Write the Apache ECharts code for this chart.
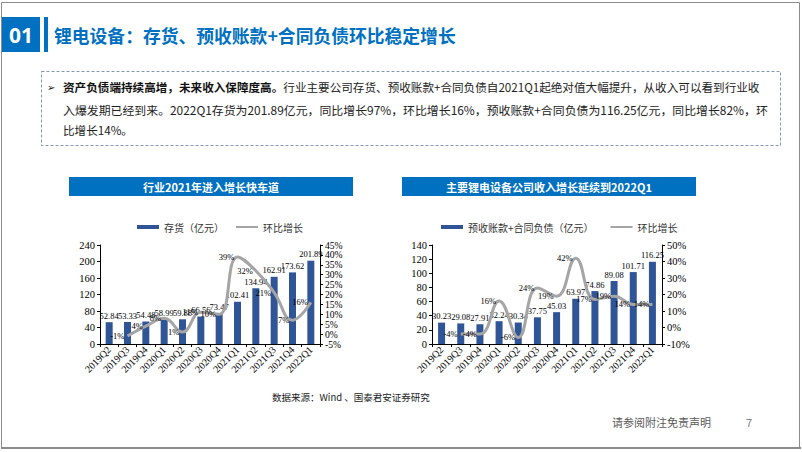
<!DOCTYPE html>
<html><head><meta charset="utf-8">
<script src="https://cdn.jsdelivr.net/npm/echarts@6/dist/echarts.min.js"></script>
<style>html,body{margin:0;padding:0;background:#fff}#c{width:802px;height:452px}</style>
</head><body><div id="c"></div>
<script>
// ---- data ----
const categories = ['2019Q2','2019Q3','2019Q4','2020Q1','2020Q2','2020Q3','2020Q4','2021Q1','2021Q2','2021Q3','2021Q4','2022Q1'];
const inventory = [52.84,53.33,54.48,58.99,59.88,66.56,73.47,102.41,134.94,162.91,173.62,201.89];
const inventoryQoQ = [null,-1,4,8,1,11,10,39,32,21,7,16];
const advance = [30.23,29.08,27.91,32.24,30.34,37.75,45.03,63.97,74.86,89.08,101.71,116.25];
const advanceQoQ = [null,-4,-4,16,-6,24,19,42,17,19,14,14];
const inventoryAxis = {min:0, max:240, interval:40};
const inventoryPctAxis = {min:-5, max:45, interval:5};
const advanceAxis = {min:0, max:140, interval:20};
const advancePctAxis = {min:-10, max:50, interval:10};
const chartTitles = ['行业2021年进入增长快车道','主要锂电设备公司收入增长延续到2022Q1'];
const seriesNames = ['存货（亿元）','预收账款+合同负债（亿元）','环比增长'];

const SERIF = '"Liberation Serif","Times New Roman",serif';
const CJK = '"Noto Sans CJK SC","Microsoft YaHei",sans-serif';
const BLUE = '#0070C0', BAR = '#2F5597', GRAY = '#A5A5A5';
const LINE_ICON = 'path://M0,0 L0.01,0 L0.01,0.01 Z M0,1.1 L22,1.1 L22,2.9 L0,2.9 Z M0,4 L0.01,4 L0.01,3.99 Z';

const chart = echarts.init(document.getElementById('c'), null, {renderer:'svg', width:802, height:452});

function valAxis(grid, cfg, pos, pct, fs){
  return {
    type:'value', gridIndex:grid, position:pos, min:cfg.min, max:cfg.max, interval:cfg.interval,
    axisLine:{show:true, lineStyle:{color:'#000', width:1}},
    axisTick:{show:true, length:3, lineStyle:{color:'#000'}},
    splitLine:{show:false},
    axisLabel:{fontFamily:SERIF, fontSize:fs, color:'#000', margin:5,
      showMinLabel:true, showMaxLabel:true, hideOverlap:false,
      formatter: pct ? '{value}%' : '{value}'}
  };
}
function catAxis(grid){
  return {
    type:'category', gridIndex:grid, data:categories,
    axisLine:{show:true, lineStyle:{color:'#000'}},
    axisTick:{show:true, length:3, lineStyle:{color:'#000'}},
    axisLabel:{rotate:45, fontFamily:SERIF, fontSize:10, color:'#000', margin:4, interval:0}
  };
}
function pctData(arr){ return arr.map(v => v === null ? '-' : v); }

const legendText = {fontFamily:CJK, fontSize:10, color:'#333'};
const option = {
  animation:false,
  textStyle:{fontFamily:CJK},
  grid:[
    {left:100, top:245, width:220, height:99},
    {left:432, top:245, width:230, height:99}
  ],
  xAxis:[catAxis(0), catAxis(1)],
  yAxis:[
    valAxis(0, inventoryAxis, 'left', false, 10.5),
    valAxis(0, inventoryPctAxis, 'right', true, 9.6),
    valAxis(1, advanceAxis, 'left', false, 10.5),
    valAxis(1, advancePctAxis, 'right', true, 10.5)
  ],
  legend:[
    {left:132, top:217, itemWidth:22, itemHeight:4, itemGap:12, textStyle:legendText,
     data:[{name:seriesNames[0], icon:'rect'}, {name:seriesNames[2], icon:LINE_ICON}]},
    {left:436, top:217, itemWidth:22, itemHeight:4, itemGap:17, textStyle:legendText,
     data:[{name:seriesNames[1], icon:'rect'}, {name:seriesNames[2], icon:LINE_ICON}]}
  ],
  series:[
    {name:seriesNames[0], type:'bar', xAxisIndex:0, yAxisIndex:0, data:inventory, barWidth:7,
     itemStyle:{color:BAR},
     label:{show:true, position:'top', distance:2, fontFamily:SERIF, fontSize:8.5, color:'#000'}},
    {name:seriesNames[2], type:'line', xAxisIndex:0, yAxisIndex:1, data:pctData(inventoryQoQ), smooth:0.45,
     symbol:'circle', symbolSize:0.1, showSymbol:true, lineStyle:{color:GRAY, width:3}, itemStyle:{color:GRAY},
     label:{show:true, position:'left', distance:3, fontFamily:SERIF, fontSize:8.5, color:'#000', formatter:'{c}%'}},
    {name:seriesNames[1], type:'bar', xAxisIndex:1, yAxisIndex:2, data:advance, barWidth:7,
     itemStyle:{color:BAR},
     label:{show:true, position:'top', distance:2, fontFamily:SERIF, fontSize:8.5, color:'#000'}},
    {name:seriesNames[2], type:'line', xAxisIndex:1, yAxisIndex:3, data:pctData(advanceQoQ), smooth:0.45,
     symbol:'circle', symbolSize:0.1, showSymbol:true, lineStyle:{color:GRAY, width:3}, itemStyle:{color:GRAY},
     label:{show:true, position:'left', distance:3, fontFamily:SERIF, fontSize:8.5, color:'#000', formatter:'{c}%'}}
  ],
  graphic:[
    // slide frame
    {type:'rect', shape:{x:1.5, y:2.5, width:798, height:446}, style:{fill:'none', stroke:'#8c8c8c', lineWidth:1}},
    {type:'rect', shape:{x:1, y:447, width:800, height:2}, style:{fill:'#8c8c8c'}},
    // header
    {type:'rect', shape:{x:2, y:17, width:38, height:35}, style:{fill:BLUE}},
    {type:'text', x:21, y:35, style:{text:'01', fill:'#fff', font:'bold 21px "Open Sans",Arial,sans-serif', align:'center', verticalAlign:'middle'}},
    {type:'rect', shape:{x:44, y:17, width:4, height:35}, style:{fill:BLUE}},
    {type:'text', x:54, y:35, style:{text:'锂电设备：存货、预收账款+合同负债环比稳定增长', fill:BLUE, font:'bold 17.8px '+CJK, verticalAlign:'middle'}},
    // dashed box
    {type:'rect', shape:{x:41.5, y:71.5, width:739, height:74}, style:{fill:'none', stroke:'#8497B0', lineWidth:1, lineDash:[3,2]}},
    {type:'text', x:47, y:87, style:{text:'➢', fill:'#222', font:'10px "DejaVu Sans",sans-serif', verticalAlign:'middle'}},
    {type:'text', x:63, y:87, style:{
      text:'{b|资产负债端持续高增，未来收入保障度高。}{n|行业主要公司存货、预收账款+合同负债自2021Q1起绝对值大幅提升，从收入可以看到行业收}',
      verticalAlign:'middle',
      rich:{b:{font:'bold 11.6px '+CJK, fill:'#111'}, n:{font:'11.6px '+CJK, fill:'#222'}}}},
    {type:'text', x:63, y:109, style:{text:'入爆发期已经到来。2022Q1存货为201.89亿元，同比增长97%，环比增长16%，预收账款+合同负债为116.25亿元，同比增长82%，环',
      font:'11.9px '+CJK, fill:'#222', verticalAlign:'middle'}},
    {type:'text', x:63, y:130, style:{text:'比增长14%。', font:'11.6px '+CJK, fill:'#222', verticalAlign:'middle'}},
    // chart title bars
    {type:'rect', shape:{x:69, y:177, width:284, height:19}, style:{fill:BLUE}},
    {type:'text', x:211, y:186.5, style:{text:chartTitles[0], fill:'#fff', font:'bold 11px '+CJK, align:'center', verticalAlign:'middle'}},
    {type:'rect', shape:{x:402, y:177, width:294, height:19}, style:{fill:BLUE}},
    {type:'text', x:549, y:186.5, style:{text:chartTitles[1], fill:'#fff', font:'bold 11px '+CJK, align:'center', verticalAlign:'middle'}},
    // footer
    {type:'text', x:272, y:397, style:{text:'数据来源：Wind 、国泰君安证券研究', fill:'#222', font:'9.5px '+CJK, verticalAlign:'middle'}},
    {type:'text', x:612, y:422, style:{text:'请参阅附注免责声明', fill:'#595959', font:'11px '+CJK, verticalAlign:'middle'}},
    {type:'text', x:746, y:422, style:{text:'7', fill:'#7f7f7f', font:'11px '+CJK, verticalAlign:'middle'}}
  ]
};
chart.setOption(option);
</script></body></html>
